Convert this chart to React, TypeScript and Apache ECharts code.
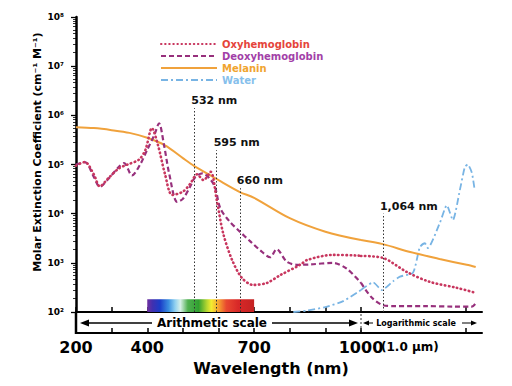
import React, { useEffect, useRef } from "react";
import * as echarts from "echarts";

// ---------- data (wavelength in nm, molar extinction coefficient in cm^-1 M^-1) ----------
const oxyNmArith = [200, 225, 250, 267, 290, 320, 345, 377, 395, 413, 430, 450, 470, 500, 520, 540, 558, 578, 595, 613, 638, 666, 697, 736, 773, 829, 850, 921, 988, 1000];
const oxyValArith = [9.5e4, 1.12e5, 6.3e4, 3.6e4, 5.2e4, 8.3e4, 1.0e5, 1.26e5, 2.0e5, 5.5e5, 2.5e5, 6.3e4, 2.4e4, 2.8e4, 4.0e4, 6.3e4, 4.8e4, 7.1e4, 1.9e4, 4.0e3, 1150, 490, 355, 390, 560, 910, 1150, 1450, 1410, 1380];
const oxyNmLog = [1000, 1064, 1139, 1216, 1313, 1385];
const oxyValLog = [1380, 1260, 650, 410, 310, 245];

const deoxyNmArith = [200, 225, 250, 267, 290, 320, 335, 357, 380, 400, 420, 433, 447, 462, 484, 500, 520, 535, 555, 575, 590, 605, 630, 660, 690, 717, 745, 763, 792, 823, 860, 921, 960, 1000];
const deoxyValArith = [1.0e5, 1.12e5, 5.6e4, 3.5e4, 5.0e4, 8.9e4, 1.07e5, 6.0e4, 1.0e5, 2.0e5, 4.0e5, 6.9e5, 2.5e5, 6.3e4, 1.74e4, 2.0e4, 3.5e4, 5.6e4, 6.6e4, 5.2e4, 3.5e4, 1.29e4, 7.1e3, 4.3e3, 2.7e3, 1.8e3, 1.3e3, 1.9e3, 1.05e3, 910, 930, 1000, 760, 390];
const deoxyNmLog = [1000, 1030, 1064, 1100, 1200, 1300, 1370, 1385];
const deoxyValLog = [390, 200, 138, 132, 132, 129, 129, 150];

const melaninNmArith = [200, 250, 300, 350, 400, 450, 500, 532, 560, 600, 660, 700, 800, 900, 1000];
const melaninValArith = [5.75e5, 5.5e5, 5.0e5, 4.4e5, 3.5e5, 2.45e5, 1.35e5, 9.3e4, 7.1e4, 4.8e4, 2.75e4, 2.1e4, 8.1e3, 4.3e3, 2.9e3];
const melaninNmLog = [1000, 1064, 1150, 1250, 1350, 1385];
const melaninValLog = [2.9e3, 2.4e3, 1.66e3, 1.2e3, 910, 820];

const waterNmArith = [810, 850, 900, 950, 1000];
const waterValArith = [100, 107, 126, 166, 280];
const waterNmLog = [1000, 1035, 1061, 1095, 1117, 1159, 1182, 1199, 1209, 1251, 1276, 1298, 1324, 1343, 1354, 1370, 1381];
const waterValLog = [280, 400, 280, 420, 525, 630, 2100, 2500, 2000, 6500, 1.48e4, 7400, 3.0e4, 8.9e4, 1.0e5, 6.8e4, 3.0e4];

const markerNm = [532, 595, 660];
const markerTop = [1.4e6, 1.95e5, 3.3e4];
const markerLabels = ["532 nm", "595 nm", "660 nm"];
const nirMarkerNm = 1064;
const nirMarkerTop = 1.0e4;
const nirMarkerLabel = "1,064 nm";

const xTickLabels = [200, 400, 700, 1000];
const visibleBandNm = [400, 700];

const FONT = "DejaVu Sans";
const SUP = ["⁰", "¹", "²", "³", "⁴", "⁵", "⁶", "⁷", "⁸", "⁹"];

const OXY = "#c8365e";
const DEOXY = "#97307c";
const MEL = "#f0a23c";
const WATER = "#78b4e4";

const pairs = (xs: number[], ys: number[]) => xs.map((x, i) => [x, ys[i]]);

export default function App() {
  const ref = useRef<HTMLDivElement>(null);
  useEffect(() => {
    const chart = echarts.init(ref.current!, null, { renderer: "svg" });

    const oxyStyle = { type: [0.5, 3.6], width: 2.6, cap: "round", color: OXY };
    const deoxyStyle = { type: [5, 3], width: 2.2, color: DEOXY };
    const melStyle = { type: "solid", width: 2, color: MEL };
    const waterStyle = { type: [7, 3, 2, 3], width: 1.8, color: WATER };

    const line = (name: string, data: number[][], grid: number, ls: any, color: string, z: number, smooth = 0.3) => ({
      type: "line",
      name,
      data,
      xAxisIndex: grid === 0 ? 0 : 2,
      yAxisIndex: grid,
      symbol: "none",
      showSymbol: false,
      smooth,
      lineStyle: ls,
      itemStyle: { color },
      z,
    });

    const labelRich = (txt: string, pad: number) => ({
      show: true,
      position: "end",
      distance: 2,
      formatter: `{t|${txt}}`,
      rich: { t: { fontFamily: FONT, fontWeight: "bold", fontSize: 11, color: "#111", padding: [0, 0, 0, pad] } },
    });

    const gradient = new echarts.graphic.LinearGradient(0, 0, 1, 0, [
      { offset: 0, color: "#7030a0" },
      { offset: 0.05, color: "#4030b0" },
      { offset: 0.12, color: "#1a3cc8" },
      { offset: 0.2, color: "#3a8fe0" },
      { offset: 0.26, color: "#8fd0f0" },
      { offset: 0.31, color: "#d8f0e8" },
      { offset: 0.38, color: "#50b050" },
      { offset: 0.48, color: "#30a030" },
      { offset: 0.56, color: "#b8d830" },
      { offset: 0.6, color: "#f4ec30" },
      { offset: 0.67, color: "#f6a030" },
      { offset: 0.74, color: "#e84830" },
      { offset: 0.85, color: "#d82828" },
      { offset: 1, color: "#c42222" },
    ]);

    const melLeft: any = line("Melanin", pairs(melaninNmArith, melaninValArith), 0, melStyle, MEL, 3);
    melLeft.markLine = {
      silent: true,
      symbol: ["none", "none"],
      lineStyle: { type: [1.5, 2], color: "#333", width: 1 },
      data: markerNm.map((nm, i) => [
        { coord: [nm, 100], label: labelRich(markerLabels[i], 40) },
        { coord: [nm, markerTop[i]] },
      ]),
    };
    melLeft.markArea = {
      silent: true,
      itemStyle: { color: gradient },
      data: [[{ coord: [visibleBandNm[0], 100] }, { coord: [visibleBandNm[1], 182] }]],
    };
    const melRight: any = line("Melanin", pairs(melaninNmLog, melaninValLog), 1, melStyle, MEL, 3);
    melRight.markLine = {
      silent: true,
      symbol: ["none", "none"],
      lineStyle: { type: [1.5, 2], color: "#333", width: 1 },
      data: [[{ coord: [nirMarkerNm, 100], label: labelRich(nirMarkerLabel, 52) }, { coord: [nirMarkerNm, nirMarkerTop] }]],
    };

    const axisLineStyle = { color: "#000", width: 2 };
    const tickStyle = { color: "#000", width: 1.5 };

    const option: any = {
      animation: false,
      backgroundColor: "#fff",
      grid: [
        { left: 76, top: 17, width: 285, height: 295 },
        { left: 361, top: 17, width: 121, height: 295 },
      ],
      legend: {
        orient: "vertical",
        left: 155,
        top: 34,
        itemWidth: 56,
        itemHeight: 10,
        itemGap: 2,
        itemStyle: { color: "rgba(0,0,0,0)", borderColor: "rgba(0,0,0,0)", borderWidth: 0, opacity: 0 },
        textStyle: { fontFamily: FONT, fontWeight: "bold", fontSize: 10 },
        data: [
          { name: "Oxyhemoglobin", textStyle: { color: "#e5443a" } },
          { name: "Deoxyhemoglobin", textStyle: { color: "#a23fa8" } },
          { name: "Melanin", textStyle: { color: "#f0a430" } },
          { name: "Water", textStyle: { color: "#86c0ec" } },
        ],
      },
      xAxis: [
        {
          gridIndex: 0, type: "value", min: 200, max: 1000, interval: 100, position: "bottom",
          axisLine: { lineStyle: axisLineStyle },
          axisTick: { inside: true, length: 5, lineStyle: tickStyle },
          axisLabel: { show: false },
          splitLine: { show: false },
        },
        {
          gridIndex: 0, type: "value", min: 200, max: 1000, interval: 100, position: "bottom", offset: 21,
          axisLine: { lineStyle: axisLineStyle },
          axisTick: { inside: true, length: 5, lineStyle: tickStyle },
          axisLabel: {
            margin: 6, fontFamily: FONT, fontWeight: "bold", fontSize: 16, color: "#000",
            formatter: (v: number) => (xTickLabels.includes(v) ? String(v) : ""),
          },
          splitLine: { show: false },
        },
        {
          gridIndex: 1, type: "log", min: 1000, max: 1410, position: "bottom",
          axisLine: { lineStyle: axisLineStyle },
          axisTick: { inside: true, length: 5, lineStyle: tickStyle, customValues: [1345] },
          axisLabel: { show: false },
          splitLine: { show: false },
        },
        {
          gridIndex: 1, type: "log", min: 1000, max: 1410, position: "bottom", offset: 21,
          axisLine: { lineStyle: axisLineStyle },
          axisTick: { inside: true, length: 5, lineStyle: tickStyle, customValues: [1345] },
          axisLabel: {
            customValues: [1000],
            align: "left",
            margin: 8,
            padding: [0, 0, 0, 20],
            fontFamily: FONT, fontWeight: "bold", fontSize: 12, color: "#000",
            formatter: (v: number) => (Math.abs(v - 1000) < 1 ? "(1.0 µm)" : ""),
          },
          splitLine: { show: false },
        },
      ],
      yAxis: [
        {
          gridIndex: 0, type: "log", logBase: 10, min: 100, max: 1e8,
          axisLine: { show: true, lineStyle: { color: "#000", width: 2.5 } },
          axisTick: { show: true, length: 5, lineStyle: { color: "#000", width: 1.3 } },
          minorTick: { show: true, splitNumber: 10, length: 3, lineStyle: { color: "#000", width: 0.8 } },
          axisLabel: {
            margin: 12, fontFamily: FONT, fontWeight: "bold", fontSize: 9, color: "#000",
            formatter: (v: number) => "10" + SUP[Math.round(Math.log10(v))],
          },
          splitLine: { show: false },
        },
        { gridIndex: 1, type: "log", logBase: 10, min: 100, max: 1e8, show: false, splitLine: { show: false } },
      ],
      series: [
        melLeft,
        melRight,
        line("Oxyhemoglobin", pairs(oxyNmArith, oxyValArith), 0, oxyStyle, OXY, 5),
        line("Oxyhemoglobin", pairs(oxyNmLog, oxyValLog), 1, oxyStyle, OXY, 5),
        line("Deoxyhemoglobin", pairs(deoxyNmArith, deoxyValArith), 0, deoxyStyle, DEOXY, 4),
        line("Deoxyhemoglobin", pairs(deoxyNmLog, deoxyValLog), 1, deoxyStyle, DEOXY, 4),
        line("Water", pairs(waterNmArith, waterValArith), 0, waterStyle, WATER, 2, 0.2),
        line("Water", pairs(waterNmLog, waterValLog), 1, waterStyle, WATER, 2, 0.2),
      ],
      graphic: [
        { type: "line", shape: { x1: 76, y1: 312, x2: 76, y2: 334 }, style: { stroke: "#000", lineWidth: 2.5 } },
        { type: "line", shape: { x1: 361, y1: 314, x2: 361, y2: 332 }, style: { stroke: "#333", lineWidth: 1, lineDash: [2, 2] } },
        { type: "line", shape: { x1: 86, y1: 323, x2: 152, y2: 323 }, style: { stroke: "#000", lineWidth: 1.3 } },
        { type: "polygon", shape: { points: [[80, 323], [89, 319.5], [89, 326.5]] }, style: { fill: "#000" } },
        {
          type: "text", x: 212, y: 323,
          style: { text: "Arithmetic scale", fontFamily: FONT, fontWeight: "bold", fontSize: 12, fill: "#000", align: "center", verticalAlign: "middle" },
        },
        { type: "line", shape: { x1: 272, y1: 323, x2: 352, y2: 323 }, style: { stroke: "#000", lineWidth: 1.3 } },
        { type: "polygon", shape: { points: [[358, 323], [349, 319.5], [349, 326.5]] }, style: { fill: "#000" } },
        { type: "polygon", shape: { points: [[363, 323], [369, 320.5], [369, 325.5]] }, style: { fill: "#000" } },
        { type: "line", shape: { x1: 367, y1: 323, x2: 373, y2: 323 }, style: { stroke: "#000", lineWidth: 1 } },
        {
          type: "text", x: 416, y: 323,
          style: { text: "Logarithmic scale", fontFamily: FONT, fontWeight: "bold", fontSize: 8, fill: "#000", align: "center", verticalAlign: "middle" },
        },
        { type: "line", shape: { x1: 462, y1: 323, x2: 472, y2: 323 }, style: { stroke: "#000", lineWidth: 1 } },
        { type: "polygon", shape: { points: [[477, 323], [471, 320.5], [471, 325.5]] }, style: { fill: "#000" } },
        {
          type: "text", x: 271, y: 368,
          style: { text: "Wavelength (nm)", fontFamily: FONT, fontWeight: "bold", fontSize: 16, fill: "#000", align: "center", verticalAlign: "middle" },
        },
        {
          type: "text", x: 37, y: 152, rotation: Math.PI / 2,
          style: { text: "Molar Extinction Coefficient (cm⁻¹ M⁻¹)", fontFamily: FONT, fontWeight: "bold", fontSize: 11, fill: "#000", align: "center", verticalAlign: "middle" },
        },
      ],
    };

    chart.setOption(option);
    return () => chart.dispose();
  }, []);

  return <div ref={ref} style={{ position: "fixed", left: 0, top: 0, width: 512, height: 386 }} />;
}
